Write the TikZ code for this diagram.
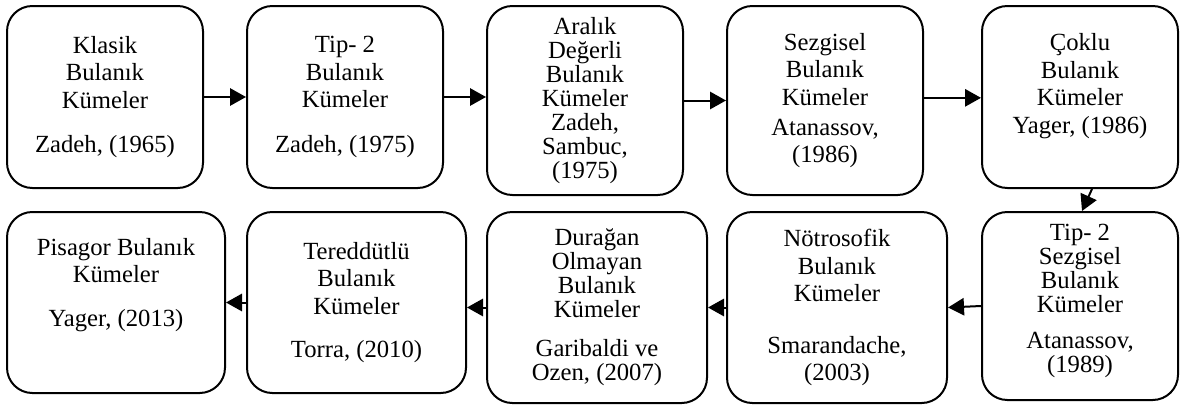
\documentclass[tikz,border=0pt]{standalone}
\usepackage{fontspec}
\setmainfont{Liberation Serif}
\usepackage{tikz}
\usetikzlibrary{arrows.meta,positioning,calc}

\begin{document}
\begin{tikzpicture}[x=0.75pt, y=-0.75pt,
  kume/.style = {draw, line width = 1.5pt, rounded corners = 19pt, align = center, inner sep = 0pt,
                 font = \fontsize{18.5}{20.6}\selectfont},
  sik/.style = {font = \fontsize{18.5}{18}\selectfont},
  ok/.style = {line width = 1.5pt, -{Triangle[length = 12pt, width = 13pt]}}]

\useasboundingbox (0,0) rectangle (1180,407);

% ust satir
\node[kume, minimum width = 147pt, minimum height = 136.5pt] (klasik) at (105,97)
  {Klasik\\Bulanık\\Kümeler\\[13pt]Zadeh, (1965)};
\node[kume, minimum width = 147pt, minimum height = 136.5pt] (tip) at (345,97)
  {Tip- 2\\Bulanık\\Kümeler\\[13pt]Zadeh, (1975)};
\node[kume, sik, minimum width = 147pt, minimum height = 141.75pt] (aralik) at (585,100.5)
  {Aralık\\Değerli\\Bulanık\\Kümeler\\Zadeh,\\Sambuc,\\(1975)};
\node[kume, minimum width = 147pt, minimum height = 141.75pt] (sezgisel) at (825,100.5)
  {Sezgisel\\Bulanık\\Kümeler\\[2pt]Atanassov,\\(1986)};
\node[kume, minimum width = 147pt, minimum height = 136.5pt] (coklu) at (1080,97)
  {Çoklu\\Bulanık\\Kümeler\\Yager, (1986)\\ \mbox{}};

%%%%%%%%%%%%%%%%%%%%%%%%%%%%%%%%

% alt satir
\node[kume, sik, minimum width = 147pt, minimum height = 141pt] (tipsez) at (1080,306)
  {Tip- 2\\Sezgisel\\Bulanık\\Kümeler\\[9pt]Atanassov,\\(1989)\\[-6pt]\mbox{}};
\node[kume, minimum width = 165pt, minimum height = 143.25pt] (notro) at (837,307.5)
  {Nötrosofik\\Bulanık\\Kümeler\\[18pt]Smarandache,\\(2003)};
\node[kume, sik, minimum width = 165pt, minimum height = 143.25pt] (duragan) at (597,307.5)
  {Durağan\\Olmayan\\Bulanık\\Kümeler\\[11pt]Garibaldi ve\\Ozen, (2007)};
\node[kume, minimum width = 164.25pt, minimum height = 135.75pt] (tered) at (356.5,302.5)
  {Tereddütlü\\Bulanık\\Kümeler\\[12pt]Torra, (2010)};
\node[kume, minimum width = 163.5pt, minimum height = 135.75pt] (pisagor) at (116,302.5)
  {Pisagor Bulanık\\Kümeler\\[12pt]Yager, (2013)\\[10pt]\mbox{}};

%%%%%%%%%%%%%%%%%%%%%%%%%%%%%%%%

\draw[ok] (klasik) -- (tip);
\draw[ok] (tip.east) -- (tip.east -| aralik.west);
\draw[ok] (aralik) -- (sezgisel);
\draw[ok] ([yshift = 2pt]sezgisel.east) -- ([yshift = 2pt]sezgisel.east -| coklu.west);
\draw[ok] ([xshift = 9pt]coklu.south) -- ([xshift = 1.5pt]tipsez.north);
\draw[ok] (tipsez.west) -- (notro.east);
\draw[ok] (notro) -- (duragan);
\draw[ok] (duragan.west) -- (duragan.west -| tered.east);
\draw[ok] (tered) -- (pisagor);

\end{tikzpicture}
\end{document}
